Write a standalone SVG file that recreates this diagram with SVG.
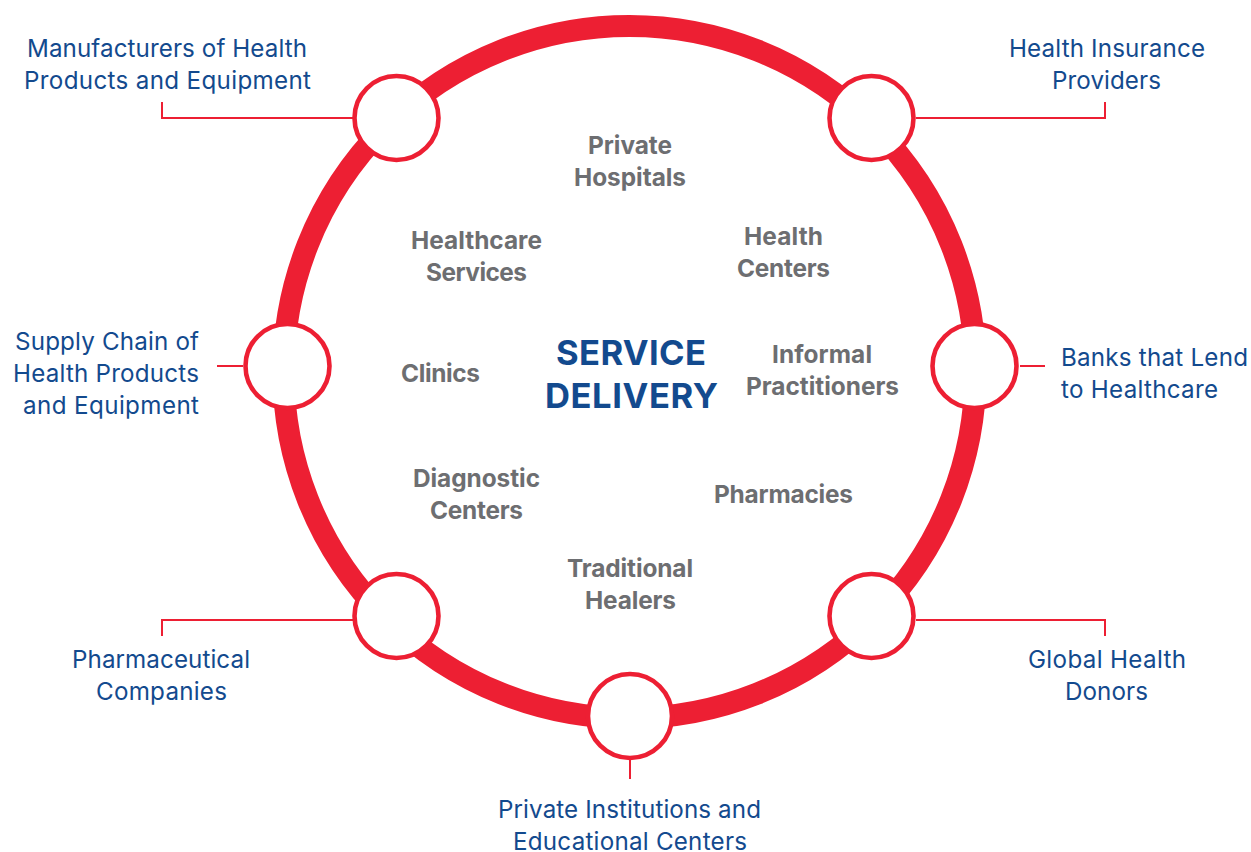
<svg xmlns="http://www.w3.org/2000/svg" width="1251" height="852" viewBox="0 0 1251 852">
<style>
.o{font:24.2px "Inter","Liberation Sans",sans-serif;fill:#134a8e;text-anchor:middle}
.g{font:bold 24.4px "Inter","Liberation Sans",sans-serif;fill:#6d6e71;text-anchor:middle}
.t{font:bold 34.6px "Inter","Liberation Sans",sans-serif;fill:#134a8e;text-anchor:middle}
.e{text-anchor:end}
.s{text-anchor:start}
.c{fill:#fff;stroke:#ed1f33;stroke-width:4.6}
.l{fill:none;stroke:#ed1f33;stroke-width:2}
</style>
<rect width="1251" height="852" fill="#fff"/>
<circle id="ring" cx="629.5" cy="372" r="346" fill="none" stroke="#ed1f33" stroke-width="22"/>
<g id="connectors">
<path class="l" d="M162 102V118H353"/><path class="l" d="M1105 102V118H916"/>
<path class="l" d="M217 366H243"/><path class="l" d="M1020 366H1045"/>
<path class="l" d="M162 636V620H353"/><path class="l" d="M1105 636V620H916"/>
<path class="l" d="M630 760V779"/>
</g>
<g id="n1"><circle class="c" cx="396.500" cy="118" r="42"/><text class="o" x="167" y="57" textLength="280">Manufacturers of Health</text><text class="o" x="167.500" y="89" textLength="287">Products and Equipment</text></g>
<g id="n2"><circle class="c" cx="871.500" cy="118" r="42"/><text class="o" x="1107" y="57" textLength="196">Health Insurance</text><text class="o" x="1106.500" y="89" textLength="109">Providers</text></g>
<g id="n3"><circle class="c" cx="287.500" cy="366" r="42"/><text class="o e" x="199" y="350" textLength="184">Supply Chain of</text><text class="o e" x="199" y="382" textLength="186">Health Products</text><text class="o e" x="199" y="414" textLength="176">and Equipment</text></g>
<g id="n4"><circle class="c" cx="974.500" cy="366" r="42"/><text class="o s" x="1061" y="366" textLength="187">Banks that Lend</text><text class="o s" x="1061" y="398" textLength="157">to Healthcare</text></g>
<g id="n5"><circle class="c" cx="396.500" cy="616" r="42"/><text class="o" x="161" y="668" textLength="178">Pharmaceutical</text><text class="o" x="161.500" y="700" textLength="131">Companies</text></g>
<g id="n6"><circle class="c" cx="871.500" cy="616" r="42"/><text class="o" x="1107" y="668" textLength="158">Global Health</text><text class="o" x="1106.500" y="700" textLength="83">Donors</text></g>
<g id="n7"><circle class="c" cx="630" cy="716" r="42"/><text class="o" x="629.500" y="818" textLength="263">Private Institutions and</text><text class="o" x="630" y="850" textLength="234">Educational Centers</text></g>
<g id="center"><text class="t" x="631" y="365" textLength="150">SERVICE</text><text class="t" x="631.500" y="407.500" textLength="173">DELIVERY</text></g>
<g id="s1"><text class="g" x="630" y="154" textLength="84">Private</text><text class="g" x="630" y="186" textLength="112">Hospitals</text></g>
<g id="s2"><text class="g" x="476.500" y="249" textLength="131">Healthcare</text><text class="g" x="476.500" y="281" textLength="101">Services</text></g>
<g id="s3"><text class="g" x="783.500" y="245" textLength="79">Health</text><text class="g" x="783.500" y="277" textLength="93">Centers</text></g>
<g id="s4"><text class="g" x="440.500" y="382" textLength="79">Clinics</text></g>
<g id="s5"><text class="g" x="822" y="363" textLength="100">Informal</text><text class="g" x="822.500" y="395" textLength="153">Practitioners</text></g>
<g id="s6"><text class="g" x="476.500" y="487" textLength="127">Diagnostic</text><text class="g" x="476.500" y="519" textLength="93">Centers</text></g>
<g id="s7"><text class="g" x="783.500" y="503" textLength="139">Pharmacies</text></g>
<g id="s8"><text class="g" x="630" y="577" textLength="126">Traditional</text><text class="g" x="630.500" y="609" textLength="91">Healers</text></g>
</svg>
